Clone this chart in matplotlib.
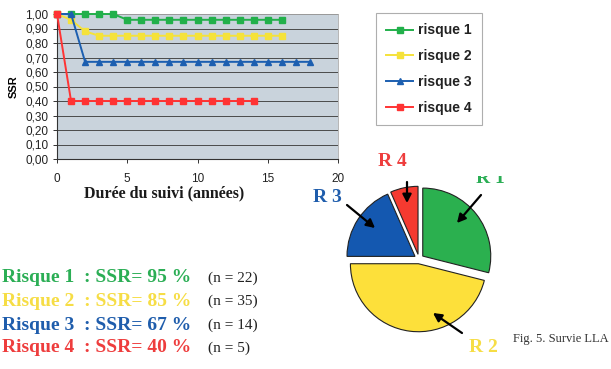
import matplotlib
matplotlib.use("Agg")
import matplotlib.pyplot as plt
from matplotlib.transforms import Bbox
from matplotlib.patches import FancyArrowPatch

# ---- data ----
years_r1 = list(range(0, 17))
ssr_r1 = [1.00, 1.00, 1.00, 1.00, 1.00] + [0.96] * 12
years_r2 = list(range(0, 17))
ssr_r2 = [1.00, 0.96, 0.88] + [0.85] * 14
years_r3 = list(range(0, 19))
ssr_r3 = [1.00, 1.00] + [0.67] * 17
years_r4 = list(range(0, 15))
ssr_r4 = [1.00] + [0.40] * 14

series_labels = ["risque 1", "risque 2", "risque 3", "risque 4"]
pie_counts = [22, 35, 14, 5]
pie_labels = ["R 1", "R 2", "R 3", "R 4"]
summary_names = ["Risque 1", "Risque 2", "Risque 3", "Risque 4"]
summary_ssr = [95, 85, 67, 40]

yticks = [i / 10 for i in range(11)]
ytick_labels = [("%.2f" % v).replace(".", ",") for v in yticks]
xticks = [0, 5, 10, 15, 20]

line_colors = ["#22b04b", "#f5e23a", "#1c5fb0", "#ff3333"]
text_colors = ["#2bae55", "#f6dd45", "#1f5dac", "#ee3d3d"]
pie_colors = ["#2bb04f", "#fde03a", "#1458b0", "#f53a30"]

W, H = 611, 369
fig = plt.figure(figsize=(W / 100, H / 100), dpi=100)
fig.patch.set_facecolor("white")

def fx(px):
    return px / W

def fy(py):
    return 1 - py / H

# ---- line chart ----
ax = fig.add_axes([fx(57), fy(159), fx(338 - 57), (159 - 14) / H])
ax.set_facecolor("#c9d3dc")
markers = ["s", "s", "^", "s"]
data = [(years_r1, ssr_r1), (years_r2, ssr_r2), (years_r3, ssr_r3), (years_r4, ssr_r4)]
handles = []
for (xs, ys), c, m, lab in zip(data, line_colors, markers, series_labels):
    h, = ax.plot(xs, ys, color=c, marker=m, markersize=5, linewidth=1.4,
                 label=lab, clip_on=False, zorder=3)
    handles.append(h)
ax.set_xlim(0, 20)
ax.set_ylim(0, 1)
ax.set_yticks(yticks)
ax.set_yticklabels(ytick_labels)
ax.set_xticks(xticks)
for yv in yticks[1:]:
    ax.axhline(yv, color="#4a4a4a", linewidth=0.7, zorder=1)
ax.tick_params(axis="both", labelsize=8.5, length=3, width=0.7, color="#333333",
               labelcolor="#222222")
ax.tick_params(axis="x", pad=7)
ax.tick_params(axis="y", pad=3)
for lab in ax.get_xticklabels() + ax.get_yticklabels():
    lab.set_family("Liberation Sans")
for s in ["top", "right"]:
    ax.spines[s].set_color("#aaaaaa")
    ax.spines[s].set_linewidth(0.6)
for s in ["left", "bottom"]:
    ax.spines[s].set_color("#333333")
    ax.spines[s].set_linewidth(0.8)
ax.set_ylabel("SSR", family="Liberation Sans", fontsize=8, fontweight="bold",
              labelpad=5)

fig.text(fx(164), fy(193), "Durée du suivi (années)", family="Liberation Serif",
         fontweight="bold", fontsize=11.5, ha="center", va="center", color="#1a1a1a")

# ---- legend ----
leg = fig.legend(handles=handles, loc="upper left",
                 bbox_to_anchor=(fx(376), fy(13)),
                 prop={"family": "Liberation Sans", "weight": "bold", "size": 10},
                 frameon=True, fancybox=False, edgecolor="#9a9a9a",
                 handlelength=1.9, handletextpad=0.35, labelspacing=0.85,
                 borderpad=0.75, borderaxespad=0)
leg.get_frame().set_linewidth(0.8)
for t in leg.get_texts():
    t.set_color("#222222")

# ---- summary text ----
ys_text = [278, 301, 325, 348]
for name, v, n, c, yy in zip(summary_names, summary_ssr, pie_counts, text_colors, ys_text):
    fig.text(fx(2), fy(yy), "%s  : SSR= %d %%" % (name, v), family="Liberation Serif",
             fontweight="bold", fontsize=14, color=c, ha="left", va="center")
    fig.text(fx(208), fy(yy), "(n = %d)" % n, family="Liberation Serif",
             fontsize=11, color="#222222", ha="left", va="center")

# ---- pie ----
R = 68
cx, cy = 419, 259
half = 1.3 * R
pax = fig.add_axes([fx(cx - half), fy(cy + half), 2 * half / W, 2 * half / H])
wedges, _ = pax.pie(pie_counts, colors=pie_colors, startangle=90, counterclock=False,
                    explode=[0.07] * 4,
                    wedgeprops={"edgecolor": "#222222", "linewidth": 0.8})
pax.set_xlim(-1.3, 1.3)
pax.set_ylim(-1.3, 1.3)
pax.set_aspect("equal")
pax.axis("off")

# labels & arrows (figure pixel coordinates)
lab_pos = [(490, 183), (483, 348), (327, 197), (392, 162)]
for lab, c, (px, py) in zip(pie_labels, text_colors, lab_pos):
    if lab == "R 1":
        t = fig.text(fx(px), fy(py), lab, family="Liberation Serif", fontweight="bold",
                     fontsize=14, color=c, ha="center", va="baseline")
        t.set_clip_on(True)
        t.set_clip_box(Bbox.from_extents(440, 0, 560, H - 176))
    else:
        fig.text(fx(px), fy(py), lab, family="Liberation Serif", fontweight="bold",
                 fontsize=14, color=c, ha="center", va="center")

arrows = [((481, 195), (457, 223)), ((462, 333), (433, 313)),
          ((347, 205), (375, 228)), ((407, 182), (407, 203))]
for (x0, y0), (x1, y1) in arrows:
    fig.add_artist(FancyArrowPatch(
        (fx(x0), fy(y0)), (fx(x1), fy(y1)), transform=fig.transFigure,
        arrowstyle="-|>,head_length=5,head_width=2.6", color="black", linewidth=1.6,
        shrinkA=0, shrinkB=0))

fig.text(fx(513), fy(339), "Fig. 5. Survie LLA", family="Liberation Serif",
         fontsize=9, color="#333333", ha="left", va="center")

fig.savefig("out.png", dpi=100)
